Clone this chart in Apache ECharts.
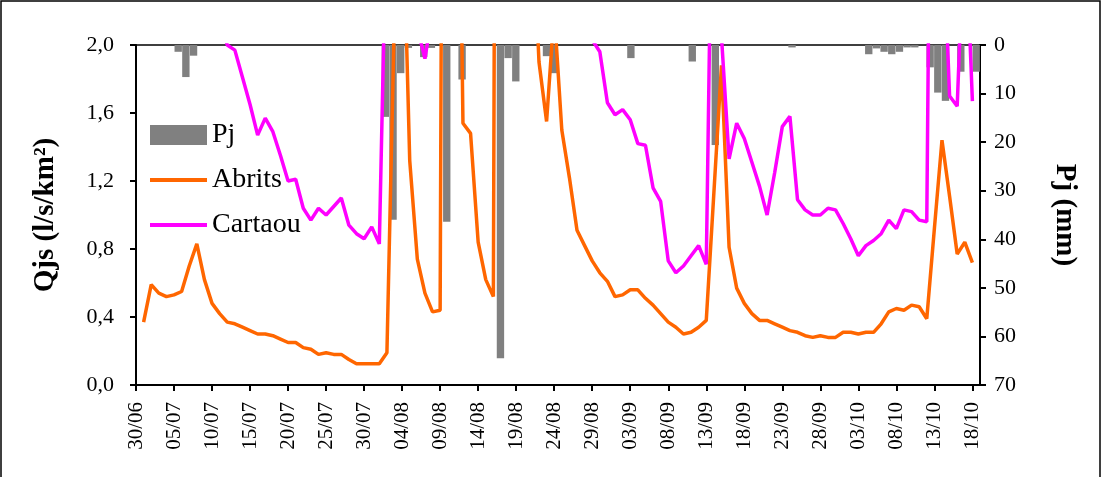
<!DOCTYPE html>
<html><head><meta charset="utf-8">
<script src="https://cdn.jsdelivr.net/npm/echarts@6/dist/echarts.min.js"></script>
<style>html,body{margin:0;padding:0;background:#fff}#c{width:1102px;height:477px}</style>
</head><body><div id="c"></div>
<script>
// Axis dates (line axis, 30/06 .. 19/10)
const axisDates = ['30/06',
'01/07','02/07','03/07','04/07','05/07','06/07','07/07','08/07','09/07','10/07','11/07','12/07','13/07','14/07','15/07','16/07','17/07','18/07','19/07','20/07','21/07','22/07','23/07','24/07','25/07','26/07','27/07','28/07','29/07','30/07','31/07',
'01/08','02/08','03/08','04/08','05/08','06/08','07/08','08/08','09/08','10/08','11/08','12/08','13/08','14/08','15/08','16/08','17/08','18/08','19/08','20/08','21/08','22/08','23/08','24/08','25/08','26/08','27/08','28/08','29/08','30/08','31/08',
'01/09','02/09','03/09','04/09','05/09','06/09','07/09','08/09','09/09','10/09','11/09','12/09','13/09','14/09','15/09','16/09','17/09','18/09','19/09','20/09','21/09','22/09','23/09','24/09','25/09','26/09','27/09','28/09','29/09','30/09',
'01/10','02/10','03/10','04/10','05/10','06/10','07/10','08/10','09/10','10/10','11/10','12/10','13/10','14/10','15/10','16/10','17/10','18/10','19/10'];
// Observation days 01/07 .. 18/10
const days = axisDates.slice(1, 111);

// Qjs Abrits (l/s/km2), 01/07..18/10
const abrits = [0.37,0.59,0.54,0.52,0.53,0.55,0.70,0.83,0.62,0.48,
0.42,0.37,0.36,0.34,0.32,0.30,0.30,0.29,0.27,0.25,
0.25,0.22,0.21,0.18,0.19,0.18,0.18,0.15,0.125,0.125,
0.125,0.125,0.19,2.2,3.0,1.32,0.74,0.54,0.43,0.44,
12,5,1.54,1.48,0.84,0.62,0.52,14,5.5,4,
3.3,2.9,1.90,1.55,2.2,1.5,1.22,0.91,0.82,0.73,
0.66,0.61,0.52,0.53,0.56,0.56,0.51,0.47,0.42,0.37,
0.34,0.30,0.31,0.34,0.38,1.13,1.88,0.81,0.57,0.48,
0.42,0.38,0.38,0.36,0.34,0.32,0.31,0.29,0.28,0.29,
0.28,0.28,0.31,0.31,0.30,0.31,0.31,0.36,0.43,0.45,
0.44,0.47,0.46,0.39,0.92,1.44,1.11,0.77,0.84,0.72];

// Qjs Cartaou (l/s/km2), 01/07..18/10
const cartaou = [2.6,2.6,2.6,2.5,2.5,2.7,2.8,2.6,2.4,2.3,
2.15,2.0,1.97,1.81,1.65,1.47,1.57,1.49,1.35,1.20,
1.21,1.04,0.97,1.04,1.00,1.05,1.10,0.94,0.89,0.86,
0.93,0.83,2.9,3.2,3.0,2.6,2.1,1.92,2.2,2.5,
4.0,3.8,3.3,3.0,2.8,2.6,2.5,5.0,4.2,3.6,
3.2,3.0,2.9,2.8,2.7,2.6,2.4,2.3,2.15,2.03,
1.96,1.66,1.59,1.62,1.56,1.42,1.41,1.16,1.08,0.73,
0.66,0.70,0.76,0.82,0.71,3.8,2.05,1.33,1.54,1.45,
1.31,1.17,1.00,1.25,1.52,1.58,1.09,1.03,1.00,1.00,
1.04,1.03,0.95,0.86,0.76,0.82,0.85,0.89,0.97,0.92,
1.03,1.02,0.97,0.96,6.0,2.85,1.70,1.64,2.8,1.67];

// Pj daily rainfall (mm), 01/07..18/10
const pj = [0,0,0,0,0,1.4,6.6,2.2,0,0,
0,0,0,0,0,0,0,0,0,0,
0,0,0,0,0,0,0,0,0,0,
0,0,14.8,36,5.8,0.6,0,2.5,0.6,0,
36.4,0,7.1,0,0,0,0,64.5,2.7,7.5,
0,0,0,2.3,5.8,0,0,0,0,0,
0,0,0,0,2.7,0,0,0,0,0,
0,0,3.4,0,0,20.6,0,0,0,0,
0,0,0,0,0,0.5,0,0,0,0,
0,0,0,0,0,1.9,0.7,1.4,1.9,1.4,
0.5,0.5,0,4.6,9.8,11.5,0,5.5,0,5.5];

const leftTicks = {min: 0, max: 2, interval: 0.4};
const rightTicks = {min: 0, max: 70, interval: 10};

const FONT = 'Liberation Serif';
const lineData = arr => [null].concat(arr).concat([null]);

const chart = echarts.init(document.getElementById('c'), null, {renderer: 'canvas'});
chart.setOption({
  backgroundColor: '#fff',
  animation: false,
  graphic: [{type: 'rect', shape: {x: 1, y: 1, width: 1099, height: 490}, style: {fill: 'none', stroke: '#000', lineWidth: 1.5}, silent: true}],
  grid: {left: 136, right: 122, top: 45, bottom: 92, show: true, borderColor: '#000', borderWidth: 1.5, backgroundColor: 'transparent'},
  legend: {
    orient: 'vertical', left: 143, top: 116, itemWidth: 57, itemHeight: 20, itemGap: 17,
    textStyle: {fontFamily: FONT, fontSize: 28, color: '#000'},
    lineStyle: {width: 4},
    data: [
      {name: 'Pj', icon: 'rect'},
      {name: 'Abrits', itemStyle: {opacity: 0, borderWidth: 0}},
      {name: 'Cartaou', itemStyle: {opacity: 0, borderWidth: 0}}
    ]
  },
  xAxis: [{
    type: 'category', data: axisDates, boundaryGap: false, position: 'bottom',
    axisLine: {show: true, lineStyle: {color: '#000', width: 2}},
    axisTick: {show: true, interval: 4, length: 6, lineStyle: {color: '#000', width: 2}},
    axisLabel: {interval: 4, rotate: 90, margin: 17, fontFamily: FONT, fontSize: 21, color: '#000'},
    splitLine: {show: false}
  }, {
    type: 'category', data: days, boundaryGap: true, position: 'top', show: false
  }],
  yAxis: [{
    type: 'value', min: leftTicks.min, max: leftTicks.max, interval: leftTicks.interval, position: 'left',
    name: 'Qjs (l/s/km²)', nameLocation: 'middle', nameRotate: 90, nameGap: 76,
    nameTextStyle: {fontFamily: FONT, fontSize: 29, fontWeight: 'bold', color: '#000'},
    axisLine: {show: true, lineStyle: {color: '#000', width: 2}},
    axisTick: {show: true, length: 6, lineStyle: {color: '#000', width: 2}},
    axisLabel: {margin: 22, fontFamily: FONT, fontSize: 22, color: '#000', formatter: v => v.toFixed(1).replace('.', ',')},
    splitLine: {show: false}
  }, {
    type: 'value', min: rightTicks.min, max: rightTicks.max, interval: rightTicks.interval, position: 'right', inverse: true,
    name: 'Pj (mm)', nameLocation: 'middle', nameRotate: -90, nameGap: 70,
    nameTextStyle: {fontFamily: FONT, fontSize: 29, fontWeight: 'bold', color: '#000'},
    axisLine: {show: true, lineStyle: {color: '#000', width: 2}},
    axisTick: {show: true, length: 6, lineStyle: {color: '#000', width: 2}},
    axisLabel: {margin: 14, fontFamily: FONT, fontSize: 22, color: '#000'},
    splitLine: {show: false}
  }],
  series: [{
    name: 'Pj', type: 'bar', xAxisIndex: 1, yAxisIndex: 1, data: pj,
    itemStyle: {color: '#808080'}, barCategoryGap: '4%'
  }, {
    name: 'Abrits', type: 'line', xAxisIndex: 0, yAxisIndex: 0, data: lineData(abrits),
    symbol: 'none', clip: true, connectNulls: false,
    lineStyle: {color: '#FF6600', width: 3.5}, itemStyle: {color: '#FF6600'}
  }, {
    name: 'Cartaou', type: 'line', xAxisIndex: 0, yAxisIndex: 0, data: lineData(cartaou),
    symbol: 'none', clip: true, connectNulls: false,
    lineStyle: {color: '#FF00FF', width: 3.5}, itemStyle: {color: '#FF00FF'}
  }]
});
</script></body></html>
